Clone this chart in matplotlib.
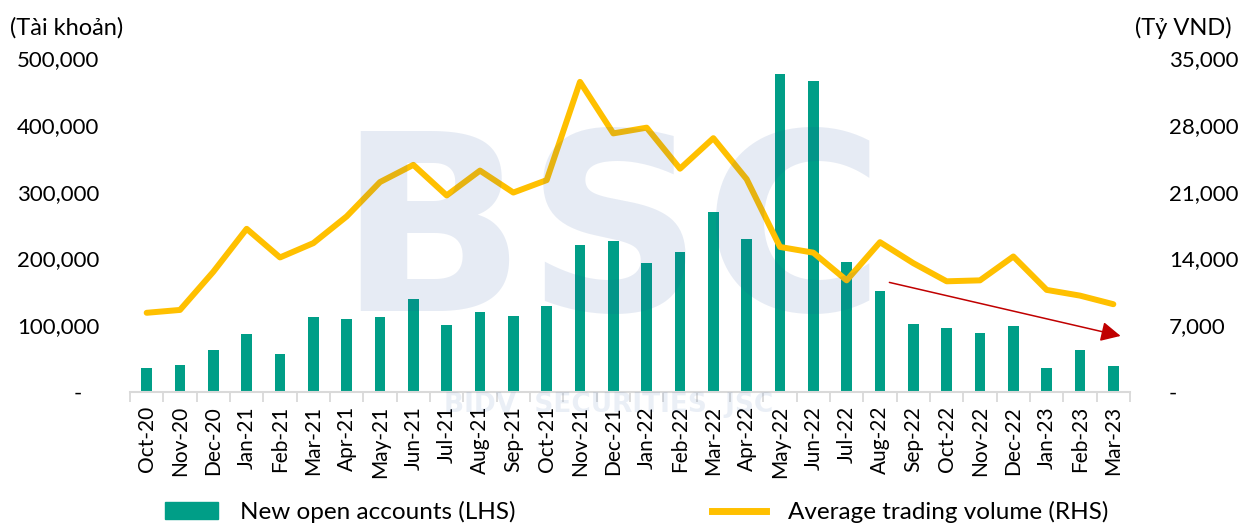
import matplotlib
matplotlib.use("Agg")
import matplotlib.pyplot as plt
from matplotlib.patches import Patch
from matplotlib.lines import Line2D
from matplotlib.ticker import FuncFormatter, FixedLocator

plt.rcParams['font.family'] = ['Lato', 'DejaVu Sans']

months = ["Oct-20", "Nov-20", "Dec-20", "Jan-21", "Feb-21", "Mar-21", "Apr-21", "May-21",
          "Jun-21", "Jul-21", "Aug-21", "Sep-21", "Oct-21", "Nov-21", "Dec-21", "Jan-22",
          "Feb-22", "Mar-22", "Apr-22", "May-22", "Jun-22", "Jul-22", "Aug-22", "Sep-22",
          "Oct-22", "Nov-22", "Dec-22", "Jan-23", "Feb-23", "Mar-23"]

# new open accounts (LHS)
new_accounts = [36000, 40000, 63000, 87000, 57000, 112000, 109000, 113000,
                139000, 100000, 120000, 114000, 129000, 220000, 226000, 193000,
                209000, 269000, 229000, 476000, 466000, 195000, 151000, 102000,
                96000, 88000, 99000, 36000, 63000, 39000]

# average trading volume, bn VND (RHS)
trading_volume = [8300, 8600, 12600, 17100, 14100, 15600, 18400, 22000,
                  23800, 20600, 23200, 20900, 22200, 32500, 27100, 27700,
                  23400, 26600, 22300, 15200, 14600, 11700, 15700, 13500,
                  11600, 11700, 14200, 10700, 10100, 9200]

left_ticks = [0, 100000, 200000, 300000, 400000, 500000]
right_ticks = [0, 7000, 14000, 21000, 28000, 35000]

bar_color = "#009E87"
line_color = "#FFC000"
tick_size = 16
text_size = 17

fig = plt.figure(figsize=(12.43, 5.23), dpi=100)
ax = fig.add_axes([130 / 1243, 131 / 523, 1000 / 1243, 334 / 523])
ax2 = ax.twinx()

x = list(range(len(months)))
ax.bar(x, new_accounts, width=0.32, color=bar_color, zorder=2)
ax2.plot(x, trading_volume, color=line_color, lw=4.3, solid_capstyle='round', zorder=3)

ax.set_xlim(-0.5, len(months) - 0.5)
ax.set_ylim(0, 500000)
ax2.set_ylim(0, 35000)

ax.yaxis.set_major_locator(FixedLocator(left_ticks))
ax2.yaxis.set_major_locator(FixedLocator(right_ticks))
ax.yaxis.set_major_formatter(FuncFormatter(lambda v, p: "-   " if v == 0 else f"{v:,.0f}"))
ax2.yaxis.set_major_formatter(FuncFormatter(lambda v, p: "-" if v == 0 else f"{v:,.0f}"))
ax.tick_params(axis='y', length=0, labelsize=tick_size, pad=22)
ax2.tick_params(axis='y', length=0, labelsize=tick_size, pad=28)

ax.set_xticks(x)
ax.set_xticklabels(months, rotation=90, fontsize=15)
ax.set_xticks([i - 0.5 for i in range(len(months) + 1)], minor=True)
ax.tick_params(axis='x', which='major', length=0, pad=10)
ax.tick_params(axis='x', which='minor', length=7, color="#D9D9D9", width=1.3)

for a in (ax, ax2):
    for side in ("top", "left", "right", "bottom"):
        a.spines[side].set_visible(False)
ax.spines["bottom"].set_visible(True)
ax.spines["bottom"].set_color("#D9D9D9")
ax.spines["bottom"].set_linewidth(1.5)

# trend arrow (positions on the LHS scale)
arrow_start = (22.2, 165000)
arrow_end = (29.3, 83000)
to_ax2 = lambda p: ax2.transData.inverted().transform(ax.transData.transform(p))
ax2.annotate("", xy=to_ax2(arrow_end), xytext=to_ax2(arrow_start),
             arrowprops=dict(arrowstyle='-|>', color="#C00000", lw=1.1, mutation_scale=30),
             zorder=4)

# watermark
fig.text(0.492, 0.535, "BSC", fontsize=178, fontweight='bold', color="#1F4E9F",
         alpha=0.11, ha='center', va='center', family='DejaVu Sans', zorder=10)
fig.text(0.49, 0.226, "BIDV  SECURITIES  JSC", fontsize=19, fontweight='bold', color="#1F4E9F",
         alpha=0.09, ha='center', va='center', family='DejaVu Sans', zorder=10)

fig.text(10 / 1243, 1 - 28 / 523, "(Tài khoản)", fontsize=text_size, ha='left', va='center')
fig.text(1232 / 1243, 1 - 28 / 523, "(Tỷ VND)", fontsize=text_size, ha='right', va='center')

handles = [Patch(color=bar_color), Line2D([0], [0], color=line_color, lw=5)]
fig.legend(handles, ["New open accounts (LHS)", "Average trading volume (RHS)"],
           ncol=2, loc='center', bbox_to_anchor=(0.512, 1 - 512 / 523), frameon=False,
           fontsize=17.5, handlelength=2.2, handletextpad=0.9, columnspacing=8.1)

fig.savefig("out.png", dpi=100)
